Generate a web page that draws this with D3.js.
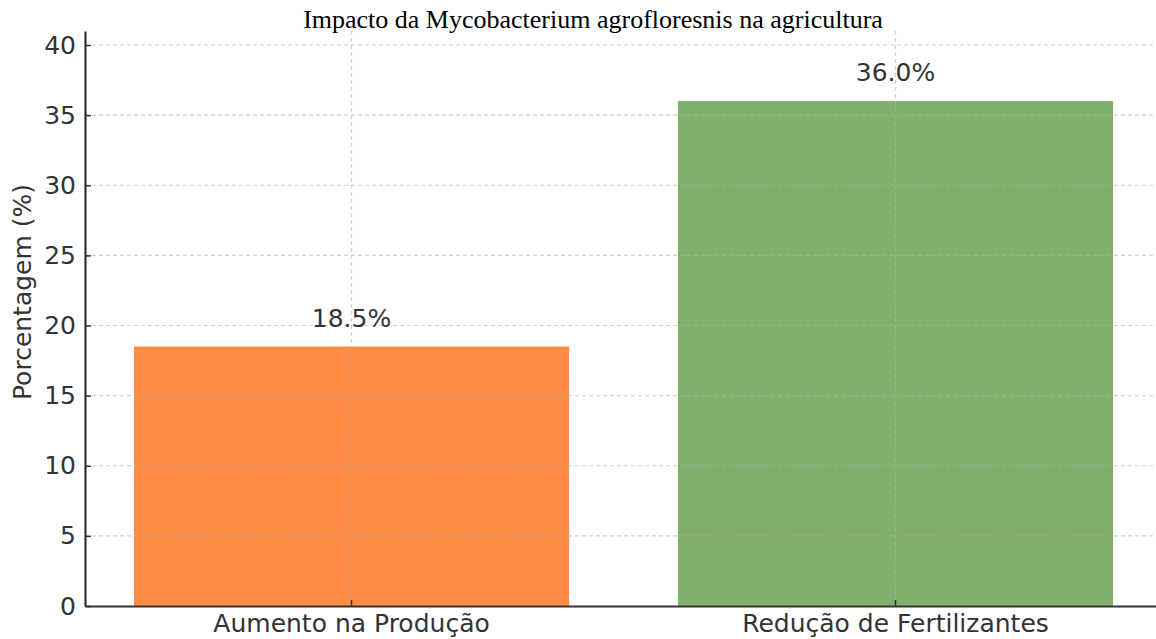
<!DOCTYPE html>
<html><head><meta charset="utf-8">
<script src="https://cdn.jsdelivr.net/npm/d3@7"></script>
<style>body{margin:0;background:#fff}svg{display:block}</style>
</head><body>
<svg id="c" width="1156" height="639"></svg>
<script>
const categories = ["Aumento na Produção", "Redução de Fertilizantes"];
const values = [18.5, 36.0];
const barColors = ["#FE8C44", "#7FAF6A"];
const yTicks = [0, 5, 10, 15, 20, 25, 30, 35, 40];
const title = "Impacto da Mycobacterium agrofloresnis na agricultura";
const yLabel = "Porcentagem (%)";

(function () {
const svg = d3.select("#c");
const mLeft = 85, mRight = 1162, mTop = 31, mBottom = 606;
const x = d3.scaleBand().domain(categories).range([mLeft, mRight]).paddingInner(0.2).paddingOuter(0.09);
const y = d3.scaleLinear().domain([0, 41]).range([mBottom, mTop]);
const font = "DejaVu Sans, sans-serif";
const fs = 25;

// bars
svg.selectAll("rect.bar").data(values).join("rect")
  .attr("x", (d, i) => x(categories[i])).attr("width", x.bandwidth())
  .attr("y", d => y(d)).attr("height", d => y(0) - y(d))
  .attr("fill", (d, i) => barColors[i]);

// grid
const g = svg.append("g");
g.selectAll("line.h").data(yTicks.slice(1)).join("line")
  .attr("x1", mLeft).attr("x2", mRight).attr("y1", d => y(d)).attr("y2", d => y(d))
  .attr("stroke", "#b0b0b0").attr("stroke-opacity", 0.6).attr("stroke-width", 1.2).attr("stroke-dasharray", "4,3");
g.selectAll("line.v").data(categories).join("line")
  .attr("x1", d => x(d) + x.bandwidth() / 2).attr("x2", d => x(d) + x.bandwidth() / 2)
  .attr("y1", mTop).attr("y2", mBottom)
  .attr("stroke", "#b0b0b0").attr("stroke-opacity", 0.6).attr("stroke-width", 1.2).attr("stroke-dasharray", "4,3");

// axes
const yAxis = d3.axisLeft(y).tickValues(yTicks).tickSizeInner(-6).tickSizeOuter(0).tickPadding(9);
const ya = svg.append("g").attr("transform", `translate(${mLeft},0)`).call(yAxis);
ya.select(".domain").attr("stroke", "#333").attr("stroke-width", 2.2);
ya.selectAll(".tick line").attr("stroke", "#333").attr("stroke-width", 1.5);
ya.selectAll("text").attr("font-family", font).attr("font-size", fs).attr("fill", "#333");

const xAxis = d3.axisBottom(x).tickSizeInner(-6).tickSizeOuter(0).tickPadding(8);
const xa = svg.append("g").attr("transform", `translate(0,${mBottom})`).call(xAxis);
xa.select(".domain").attr("stroke", "#333").attr("stroke-width", 2.2);
xa.selectAll(".tick line").attr("stroke", "#333").attr("stroke-width", 1.5);
xa.selectAll("text").attr("font-family", font).attr("font-size", fs).attr("fill", "#333");

// value labels
svg.selectAll("text.val").data(values).join("text")
  .attr("x", (d, i) => x(categories[i]) + x.bandwidth() / 2)
  .attr("y", d => y(d) - 20)
  .attr("text-anchor", "middle").attr("font-family", font).attr("font-size", fs).attr("fill", "#333")
  .text(d => d.toFixed(1) + "%");

// y label
svg.append("text").attr("transform", "translate(31,292) rotate(-90)")
  .attr("text-anchor", "middle").attr("font-family", font).attr("font-size", fs).attr("fill", "#333")
  .text(yLabel);

// title
svg.append("text").attr("x", 593).attr("y", 28).attr("text-anchor", "middle")
  .attr("font-family", "Liberation Serif, Times New Roman, serif").attr("font-size", 26).attr("fill", "#000")
  .text(title);
})();
</script>
</body></html>
